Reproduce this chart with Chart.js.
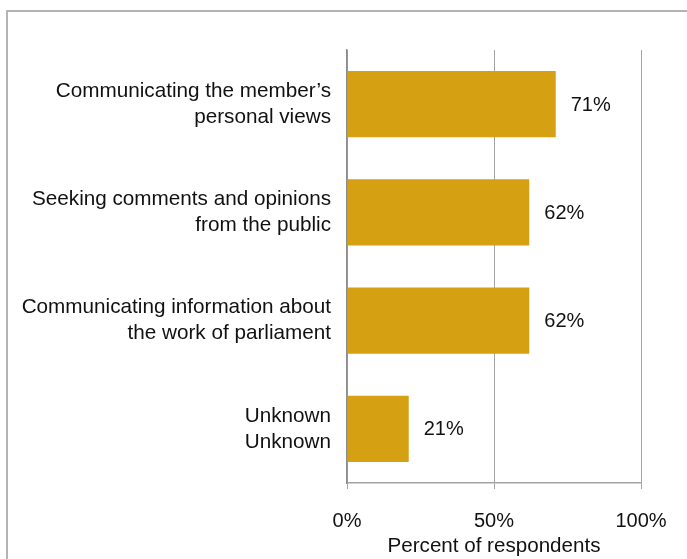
<!DOCTYPE html>
<html>
<head>
<meta charset="utf-8">
<script src="https://cdn.jsdelivr.net/npm/chart.js@4.4.0/dist/chart.umd.min.js"></script>
<style>
  html, body { margin: 0; padding: 0; background: #fff; overflow: hidden; }
  #wrap { position: relative; width: 687px; height: 559px; }
  #frame {
    position: absolute; left: 6px; top: 10px; width: 720px; height: 600px;
    border-left: 2px solid #b4b4b4; border-top: 2px solid #b4b4b4;
    pointer-events: none;
  }
</style>
</head>
<body>
<div id="wrap">
  <canvas id="chart" width="687" height="559"></canvas>
  <div id="frame"></div>
</div>
<script>
// Chart data
const categories = [
  ['Communicating the member\u2019s', 'personal views'],
  ['Seeking comments and opinions', 'from the public'],
  ['Communicating information about', 'the work of parliament'],
  ['Unknown', 'Unknown']
];
const percentValues = [71, 62, 62, 21];
const xTicks = [0, 50, 100];

const barColor = '#d5a011';
const gridColor = '#a3a3a3';
const textColor = '#111';
const fontFamily = '"Liberation Sans", Arial, sans-serif';

// Draws the value labels to the right of each bar
const valueLabels = {
  id: 'valueLabels',
  afterDatasetsDraw(chart) {
    const ctx = chart.ctx;
    const meta = chart.getDatasetMeta(0);
    ctx.save();
    ctx.font = '20px ' + fontFamily;
    ctx.fillStyle = textColor;
    ctx.textAlign = 'left';
    ctx.textBaseline = 'middle';
    meta.data.forEach((bar, i) => {
      ctx.fillText(percentValues[i] + '%', bar.x + 15, bar.y + 1);
    });
    ctx.restore();
  }
};

const ctx = document.getElementById('chart').getContext('2d');
new Chart(ctx, {
  type: 'bar',
  data: {
    labels: categories,
    datasets: [{
      data: percentValues,
      backgroundColor: barColor,
      borderWidth: 0,
      barPercentage: 0.61,
      categoryPercentage: 1
    }]
  },
  options: {
    indexAxis: 'y',
    responsive: false,
    animation: false,
    events: [],
    layout: { padding: { top: 50, right: 46, left: 0, bottom: 0 } },
    plugins: {
      legend: { display: false },
      tooltip: { enabled: false }
    },
    scales: {
      x: {
        min: 0,
        max: 100,
        afterBuildTicks(scale) {
          scale.ticks = xTicks.map(v => ({ value: v }));
        },
        afterFit(scale) { scale.height = 76; },
        grid: { color: gridColor, lineWidth: 1, tickLength: 6 },
        border: { color: gridColor, width: 1.5 },
        ticks: {
          padding: 20,
          color: textColor,
          font: { family: fontFamily, size: 20 },
          callback: v => v + '%'
        },
        title: {
          display: true,
          text: 'Percent of respondents',
          color: textColor,
          font: { family: fontFamily, size: 20.6 },
          padding: { top: 0, bottom: 0 }
        }
      },
      y: {
        afterFit(scale) { scale.width = 347; },
        grid: { display: false, drawTicks: false },
        border: { color: '#8c8c8c', width: 1.5 },
        ticks: {
          padding: 16,
          color: textColor,
          font: { family: fontFamily, size: 20.7, lineHeight: 1.26 }
        }
      }
    }
  },
  plugins: [valueLabels]
});
</script>
</body>
</html>
